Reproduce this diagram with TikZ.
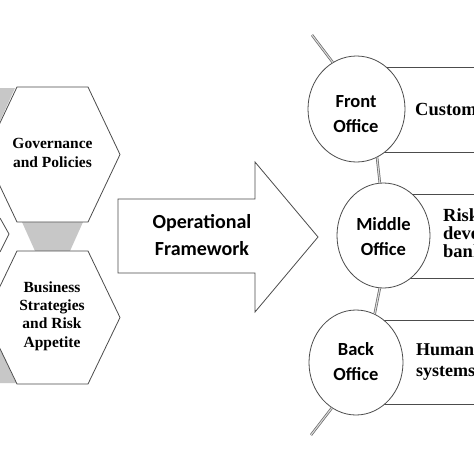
\documentclass[tikz,border=0pt]{standalone}
\usepackage{fontspec}
\setmainfont{Liberation Serif}
\newfontfamily\calib{Carlito}
\usetikzlibrary{shapes.geometric}
\tikzset{
  edge/.style={draw=black!70, line width=0.8pt},
  hexbox/.style={edge, fill=white},
  funnel/.style={fill=black!22, draw=none},
  officebox/.style={ellipse, edge, fill=white, inner sep=0pt},
  panel/.style={edge, fill=white, rectangle, inner sep=0pt},
  spine/.style={draw=black!60, double=black!15, double distance=1.1pt, line width=0.7pt},
  hextext/.style={font=\bfseries\fontsize{15.5}{18.3}\selectfont, align=center, inner sep=0pt},
  calibtext/.style={font=\calib\bfseries\fontsize{18.5}{25}\selectfont, align=center, inner sep=0pt},
  paneltext/.style={font=\bfseries\fontsize{18.5}{18}\selectfont, align=left, anchor=west, inner sep=0pt},
}
\begin{document}
\begin{tikzpicture}[x=1pt,y=-1pt]
\useasboundingbox (0,0) rectangle (474,474);
\fill[white] (0,0) rectangle (474,474);
\clip (0,0) rectangle (474,474);

% gray funnels
\path[funnel] (0,88) -- (15,88) -- (0,121) -- cycle;
\path[funnel] (22,222) -- (83,222) -- (70,251) -- (35,251) -- cycle;
\path[funnel] (0,349) -- (16,383) -- (0,383) -- cycle;

% small partial hexagon at left
\draw[edge] (0,218) -- (9,234) -- (0,252);

% hexagons
\draw[hexbox] (17,87) -- (88,87) -- (120,154.5) -- (88,222) -- (17,222) -- (-15,154.5) -- cycle;
\node[hextext] (gov) at (52.5,153) {Governance\\and Policies};
\draw[hexbox] (17,251) -- (88,251) -- (120,317.5) -- (88,384) -- (17,384) -- (-15,317.5) -- cycle;
\node[hextext] (bus) at (52,316) {Business\\Strategies\\and Risk\\Appetite};

% big arrow
\draw[edge, fill=white] (118,199) -- (255,199) -- (255,162) -- (318,237) -- (255,312) -- (255,273) -- (118,273) -- cycle;
\node[font=\calib\bfseries\fontsize{20}{27}\selectfont, align=center, inner sep=0pt] (opf) at (202,235) {Operational\\Framework};

% panels
\node[panel, minimum width=130pt, minimum height=85pt, anchor=north west] (fpanel) at (356,67) {};
\node[panel, minimum width=100pt, minimum height=84pt, anchor=north west] (mpanel) at (383,194) {};
\node[panel, minimum width=130pt, minimum height=84pt, anchor=north west] (bpanel) at (356,320) {};

% office circles
\node[officebox, minimum width=97pt, minimum height=106pt] (front) at (356.5,109) {};
\node[officebox, minimum width=93pt, minimum height=105pt] (middle) at (383.5,235.5) {};
\node[officebox, minimum width=94pt, minimum height=105pt] (back) at (356,362.5) {};

% spine
\coordinate (top) at (312,35);
\coordinate (bottom) at (311,435);
\draw[spine] (top) -- (front.117);
\draw[spine] (front.-67) -- (middle.94);
\draw[spine] (middle.-94) -- (back.69);
\draw[spine] (back.242) -- (bottom);

% circle texts
\node[calibtext] (ft) at (356,114) {Front\\Office};
\node[calibtext] (mt) at (383.5,237) {Middle\\Office};
\node[calibtext] (bt) at (356,362) {Back\\Office};

% panel texts
\node[paneltext] (ct) at (415,109) {Customer};
\node[paneltext] (rt) at (443,233) {Risk-\\devel\\bank};
\node[paneltext, font=\bfseries\fontsize{18}{21}\selectfont] (ht) at (416,362) {Human\\systems};
\end{tikzpicture}
\end{document}
